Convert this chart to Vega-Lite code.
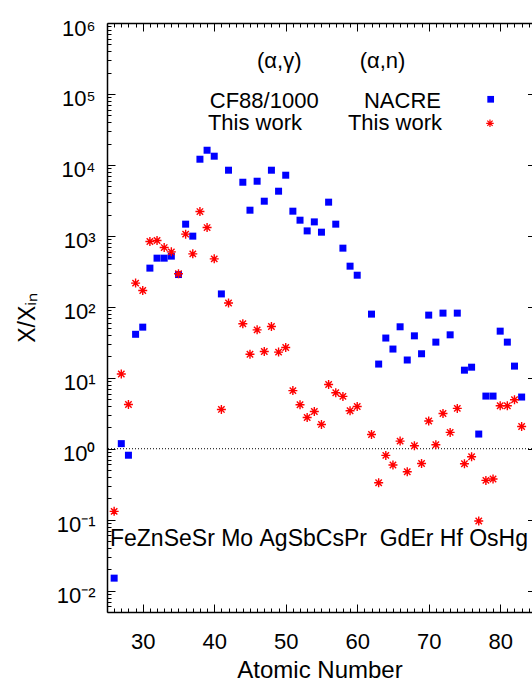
{
  "$schema": "https://vega.github.io/schema/vega-lite/v6.json",
  "width": 425,
  "height": 589,
  "autosize": "none",
  "padding": {"left": 107, "top": 23, "right": 0, "bottom": 71},
  "background": "white",
  "config": {
    "view": {"stroke": null},
    "font": "Liberation Sans",
    "axis": {"grid": false, "labelFont": "Liberation Sans", "titleFont": "Liberation Sans", "labelColor": "black", "titleColor": "black", "tickColor": "black", "domainColor": "black", "tickWidth": 1}
  },
  "datasets": {
    "one": [{"v": 1}],
    "blue": [
      {"z": 26, "v": 0.015}, {"z": 27, "v": 1.18}, {"z": 28, "v": 0.81}, {"z": 29, "v": 41}, {"z": 30, "v": 51.7},
      {"z": 31, "v": 351}, {"z": 32, "v": 485}, {"z": 33, "v": 485}, {"z": 34, "v": 518}, {"z": 35, "v": 285},
      {"z": 36, "v": 1462}, {"z": 37, "v": 991}, {"z": 38, "v": 12030}, {"z": 39, "v": 16100}, {"z": 40, "v": 13270},
      {"z": 41, "v": 152}, {"z": 42, "v": 8420}, {"z": 44, "v": 5700}, {"z": 45, "v": 2300}, {"z": 46, "v": 5890},
      {"z": 47, "v": 3080}, {"z": 48, "v": 8420}, {"z": 49, "v": 4260}, {"z": 50, "v": 7160}, {"z": 51, "v": 2228},
      {"z": 52, "v": 1663}, {"z": 53, "v": 1175}, {"z": 54, "v": 1574}, {"z": 55, "v": 1127}, {"z": 56, "v": 2985},
      {"z": 57, "v": 1462}, {"z": 58, "v": 671}, {"z": 59, "v": 374}, {"z": 60, "v": 279}, {"z": 62, "v": 78.9},
      {"z": 63, "v": 15.6}, {"z": 64, "v": 36.3}, {"z": 65, "v": 25.4}, {"z": 66, "v": 52.3}, {"z": 67, "v": 17.8},
      {"z": 68, "v": 39}, {"z": 69, "v": 21.8}, {"z": 70, "v": 76.4}, {"z": 71, "v": 31.8}, {"z": 72, "v": 81.5},
      {"z": 73, "v": 40.3}, {"z": 74, "v": 81.5}, {"z": 75, "v": 12.8}, {"z": 76, "v": 14.1}, {"z": 77, "v": 1.61},
      {"z": 78, "v": 5.52}, {"z": 79, "v": 5.52}, {"z": 80, "v": 45.4}, {"z": 81, "v": 31.8}, {"z": 82, "v": 14.6},
      {"z": 83, "v": 5.35}
    ],
    "red": [
      {"z": 26, "v": 0.131}, {"z": 27, "v": 11.3}, {"z": 28, "v": 4.2}, {"z": 29, "v": 216}, {"z": 30, "v": 170},
      {"z": 31, "v": 832}, {"z": 32, "v": 859}, {"z": 33, "v": 684}, {"z": 34, "v": 595}, {"z": 35, "v": 292},
      {"z": 36, "v": 1057}, {"z": 37, "v": 558}, {"z": 38, "v": 2200}, {"z": 39, "v": 1309}, {"z": 40, "v": 474},
      {"z": 41, "v": 3.58}, {"z": 42, "v": 113}, {"z": 44, "v": 57.7}, {"z": 45, "v": 21.5}, {"z": 46, "v": 47.4},
      {"z": 47, "v": 23.5}, {"z": 48, "v": 52.8}, {"z": 49, "v": 23}, {"z": 50, "v": 26.7}, {"z": 51, "v": 6.6},
      {"z": 52, "v": 4.17}, {"z": 53, "v": 2.76}, {"z": 54, "v": 3.35}, {"z": 55, "v": 2.2}, {"z": 56, "v": 8.05},
      {"z": 57, "v": 6.15}, {"z": 58, "v": 5.46}, {"z": 59, "v": 3.43}, {"z": 60, "v": 3.94}, {"z": 62, "v": 1.59},
      {"z": 63, "v": 0.332}, {"z": 64, "v": 0.805}, {"z": 65, "v": 0.589}, {"z": 66, "v": 1.28}, {"z": 67, "v": 0.474},
      {"z": 68, "v": 1.1}, {"z": 69, "v": 0.62}, {"z": 70, "v": 2.46}, {"z": 71, "v": 1.14}, {"z": 72, "v": 3.14},
      {"z": 73, "v": 1.7}, {"z": 74, "v": 3.7}, {"z": 75, "v": 0.615}, {"z": 76, "v": 0.772}, {"z": 77, "v": 0.096},
      {"z": 78, "v": 0.358}, {"z": 79, "v": 0.374}, {"z": 80, "v": 4.03}, {"z": 81, "v": 4.03}, {"z": 82, "v": 4.9},
      {"z": 83, "v": 2.06}
    ],
    "elements": [
      {"t": "Fe", "z": 25.42, "v": 0.0427}, {"t": "Zn", "z": 29.17, "v": 0.0427}, {"t": "Se", "z": 32.93, "v": 0.0427},
      {"t": "Sr", "z": 36.86, "v": 0.0427}, {"t": "Mo", "z": 40.97, "v": 0.0427}, {"t": "Ag", "z": 46.33, "v": 0.0427},
      {"t": "Sb", "z": 50.28, "v": 0.0427}, {"t": "Cs", "z": 54.21, "v": 0.0427}, {"t": "Pr", "z": 58.14, "v": 0.0427},
      {"t": "Gd", "z": 63.15, "v": 0.0427}, {"t": "Er", "z": 67.44, "v": 0.0427}, {"t": "Hf", "z": 71.55, "v": 0.0427},
      {"t": "Os", "z": 75.66, "v": 0.0427}, {"t": "Hg", "z": 79.78, "v": 0.0427}
    ],
    "legend": [
      {"t": "(α,γ)", "z": 49.09, "v": 230700}, {"t": "(α,n)", "z": 63.54, "v": 230700},
      {"t": "CF88/1000", "z": 46.99, "v": 62800}, {"t": "NACRE", "z": 66.33, "v": 62800},
      {"t": "This work", "z": 45.7, "v": 31000}, {"t": "This work", "z": 65.28, "v": 31000}
    ],
    "legBlue": [{"z": 78.67, "v": 84100}],
    "legRed": [{"z": 78.57, "v": 38600}]
  },
  "resolve": {"axis": {"x": "independent", "y": "independent"}},
  "layer": [
    {
      "data": {"name": "one"},
      "mark": {"type": "rule", "strokeDash": [1, 2], "strokeWidth": 1, "color": "black"},
      "encoding": {
        "y": {"field": "v", "type": "quantitative", "scale": {"type": "log", "domain": [0.005, 1000000], "nice": false},
          "axis": {"orient": "left", "values": [0.01, 0.1, 1, 10, 100, 1000, 10000, 100000, 1000000], "labels": false, "domain": false, "tickSize": -8, "title": null}}
      }
    },
    {
      "data": {"name": "blue"},
      "mark": {"type": "point", "shape": "square", "filled": true, "size": 49, "color": "#0000ff", "opacity": 1},
      "encoding": {
        "x": {"field": "z", "type": "quantitative", "scale": {"domain": [25, 84.45], "nice": false, "zero": false},
          "axis": {"orient": "bottom", "values": [30, 40, 50, 60, 70, 80], "ticks": false, "domain": true, "domainWidth": 1.5, "labelFontSize": 22, "labelPadding": 19, "labelFlush": false, "labelOverlap": false, "title": "Atomic Number", "titleFontSize": 24, "titleFontWeight": "normal", "titlePadding": 6}},
        "y": {"field": "v", "type": "quantitative", "scale": {"type": "log", "domain": [0.005, 1000000], "nice": false},
          "axis": {"orient": "left", "values": [0.01, 0.1, 1, 10, 100, 1000, 10000, 100000, 1000000], "ticks": false, "domain": true, "domainWidth": 1.5, "labelFontSize": 22, "labelPadding": 12, "labelOffset": 5, "labelOverlap": false,
            "labelExpr": "datum.value == 1000000 ? '10⁶' : datum.value == 100000 ? '10⁵' : datum.value == 10000 ? '10⁴' : datum.value == 1000 ? '10³' : datum.value == 100 ? '10²' : datum.value == 10 ? '10¹' : datum.value == 1 ? '10⁰' : datum.value == 0.1 ? '10⁻¹' : '10⁻²'",
            "title": "X/Xᵢₙ", "titleFontSize": 23, "titleFontWeight": "normal", "titlePadding": 17}}
      }
    },
    {
      "data": {"name": "red"},
      "mark": {"type": "point", "shape": "M-1,0L1,0M0,-1L0,1M-0.71,-0.71L0.71,0.71M-0.71,0.71L0.71,-0.71", "filled": false, "size": 81, "color": "#ff0000", "strokeWidth": 1.4, "opacity": 1},
      "encoding": {
        "x": {"field": "z", "type": "quantitative", "scale": {"domain": [25, 84.45], "nice": false, "zero": false},
          "axis": {"orient": "bottom", "values": [30, 40, 50, 60, 70, 80], "labels": false, "domain": false, "tickSize": -8, "title": null}},
        "y": {"field": "v", "type": "quantitative", "scale": {"type": "log", "domain": [0.005, 1000000], "nice": false},
          "axis": {"orient": "left", "values": [0.005, 0.006, 0.007, 0.008, 0.009, 0.02, 0.03, 0.04, 0.05, 0.06, 0.07, 0.08, 0.09, 0.2, 0.3, 0.4, 0.5, 0.6, 0.7, 0.8, 0.9, 2, 3, 4, 5, 6, 7, 8, 9, 20, 30, 40, 50, 60, 70, 80, 90, 200, 300, 400, 500, 600, 700, 800, 900, 2000, 3000, 4000, 5000, 6000, 7000, 8000, 9000, 20000, 30000, 40000, 50000, 60000, 70000, 80000, 90000, 200000, 300000, 400000, 500000, 600000, 700000, 800000, 900000], "labels": false, "domain": false, "tickSize": -4, "title": null}}
      }
    },
    {
      "data": {"name": "elements"},
      "mark": {"type": "text", "align": "left", "baseline": "alphabetic", "fontSize": 23, "font": "Liberation Sans", "color": "black"},
      "encoding": {
        "text": {"field": "t"},
        "x": {"field": "z", "type": "quantitative", "scale": {"domain": [25, 84.45], "nice": false, "zero": false},
          "axis": {"orient": "bottom", "values": [26, 27, 28, 29, 31, 32, 33, 34, 35, 36, 37, 38, 39, 41, 42, 43, 44, 45, 46, 47, 48, 49, 51, 52, 53, 54, 55, 56, 57, 58, 59, 61, 62, 63, 64, 65, 66, 67, 68, 69, 71, 72, 73, 74, 75, 76, 77, 78, 79, 81, 82, 83, 84], "labels": false, "domain": false, "tickSize": -4, "title": null}},
        "y": {"field": "v", "type": "quantitative", "scale": {"type": "log", "domain": [0.005, 1000000], "nice": false},
          "axis": {"orient": "right", "offset": 3.5, "values": [0.01, 0.1, 1, 10, 100, 1000, 10000, 100000, 1000000], "labels": false, "domain": true, "domainWidth": 1.5, "tickSize": -8, "title": null}}
      }
    },
    {
      "data": {"name": "legend"},
      "mark": {"type": "text", "align": "center", "baseline": "alphabetic", "fontSize": 22, "font": "Liberation Sans", "color": "black"},
      "encoding": {
        "text": {"field": "t"},
        "x": {"field": "z", "type": "quantitative", "scale": {"domain": [25, 84.45], "nice": false, "zero": false},
          "axis": {"orient": "top", "values": [30, 40, 50, 60, 70, 80], "labels": false, "domain": true, "domainWidth": 1.5, "tickSize": -8, "title": null}},
        "y": {"field": "v", "type": "quantitative", "scale": {"type": "log", "domain": [0.005, 1000000], "nice": false},
          "axis": {"orient": "right", "offset": 3.5, "values": [0.005, 0.006, 0.007, 0.008, 0.009, 0.02, 0.03, 0.04, 0.05, 0.06, 0.07, 0.08, 0.09, 0.2, 0.3, 0.4, 0.5, 0.6, 0.7, 0.8, 0.9, 2, 3, 4, 5, 6, 7, 8, 9, 20, 30, 40, 50, 60, 70, 80, 90, 200, 300, 400, 500, 600, 700, 800, 900, 2000, 3000, 4000, 5000, 6000, 7000, 8000, 9000, 20000, 30000, 40000, 50000, 60000, 70000, 80000, 90000, 200000, 300000, 400000, 500000, 600000, 700000, 800000, 900000], "labels": false, "domain": false, "tickSize": -4, "title": null}}
      }
    },
    {
      "data": {"name": "legBlue"},
      "mark": {"type": "point", "shape": "square", "filled": true, "size": 45, "color": "#0000ff", "opacity": 1},
      "encoding": {
        "x": {"field": "z", "type": "quantitative", "scale": {"domain": [25, 84.45], "nice": false, "zero": false},
          "axis": {"orient": "top", "values": [26, 27, 28, 29, 31, 32, 33, 34, 35, 36, 37, 38, 39, 41, 42, 43, 44, 45, 46, 47, 48, 49, 51, 52, 53, 54, 55, 56, 57, 58, 59, 61, 62, 63, 64, 65, 66, 67, 68, 69, 71, 72, 73, 74, 75, 76, 77, 78, 79, 81, 82, 83, 84], "labels": false, "domain": false, "tickSize": -4, "title": null}},
        "y": {"field": "v", "type": "quantitative", "scale": {"type": "log", "domain": [0.005, 1000000], "nice": false}, "axis": null}
      }
    },
    {
      "data": {"name": "legRed"},
      "mark": {"type": "point", "shape": "M-1,0L1,0M0,-1L0,1M-0.71,-0.71L0.71,0.71M-0.71,0.71L0.71,-0.71", "filled": false, "size": 56, "color": "#ff0000", "strokeWidth": 1.2, "opacity": 1},
      "encoding": {
        "x": {"field": "z", "type": "quantitative", "scale": {"domain": [25, 84.45], "nice": false, "zero": false}, "axis": null},
        "y": {"field": "v", "type": "quantitative", "scale": {"type": "log", "domain": [0.005, 1000000], "nice": false}, "axis": null}
      }
    }
  ]
}
